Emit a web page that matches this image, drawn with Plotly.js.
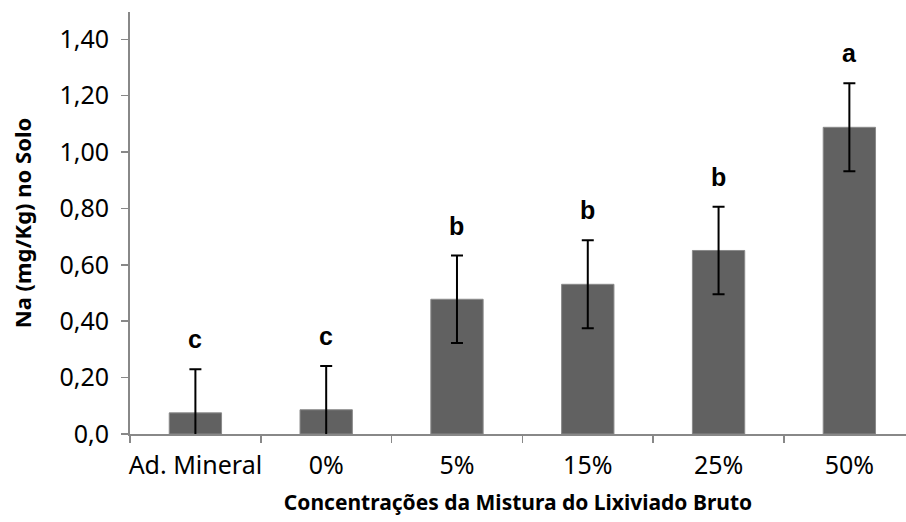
<!DOCTYPE html>
<html>
<head>
<meta charset="utf-8">
<script src="https://cdn.plot.ly/plotly-3.0.1.min.js"></script>
<style>html,body{margin:0;padding:0;background:#fff;}#chart{width:906px;height:522px;}</style>
</head>
<body>
<div id="chart"></div>
<script>
var categories = ["Ad. Mineral", "0%", "5%", "15%", "25%", "50%"];
var naValues = [0.075, 0.086, 0.478, 0.531, 0.651, 1.088];
var naErrors = [0.155, 0.155, 0.155, 0.156, 0.155, 0.156];
var groupLetters = ["c", "c", "b", "b", "b", "a"];
var yTickVals = [0, 0.2, 0.4, 0.6, 0.8, 1.0, 1.2, 1.4];
var yTickText = ["0,0", "0,20", "0,40", "0,60", "0,80", "1,00", "1,20", "1,40"];

var trace = {
  type: "bar",
  x: categories,
  y: naValues,
  width: 0.4,
  marker: {color: "#616161", line: {color: "#8a8a8a", width: 1}},
  error_y: {type: "data", array: naErrors, visible: true, color: "#000000", thickness: 2, width: 6},
  hoverinfo: "skip"
};

var annotations = categories.map(function (c, i) {
  return {
    x: c, y: naValues[i] + naErrors[i], xref: "x", yref: "y",
    text: groupLetters[i], showarrow: false, yanchor: "middle", yshift: 30,
    font: {family: "Liberation Sans, Arial, sans-serif", size: 25, color: "#000", weight: "bold"}
  };
});

var layout = {
  width: 906, height: 522,
  margin: {l: 130, r: 0, t: 12, b: 88},
  paper_bgcolor: "#ffffff", plot_bgcolor: "#ffffff",
  showlegend: false,
  font: {family: "Noto Sans, Open Sans, sans-serif", size: 22, color: "#000"},
  xaxis: {
    type: "category", range: [-0.5, 5.433],
    showline: true, linecolor: "#888888", linewidth: 2,
    ticks: "outside", tickson: "boundaries", ticklen: 7, tickcolor: "#888888", tickwidth: 1.5,
    showgrid: false, zeroline: false,
    tickangle: 0,
    ticklabelstandoff: 8,
    tickfont: {size: 25, color: "#000"},
    title: {text: "<b>Concentrações da Mistura do Lixiviado Bruto</b>", font: {size: 21, color: "#000"}, standoff: 15}
  },
  yaxis: {
    range: [0, 1.497],
    tickvals: yTickVals, ticktext: yTickText,
    showline: true, linecolor: "#888888", linewidth: 2,
    ticks: "outside", ticklen: 7, tickcolor: "#888888", tickwidth: 1.5,
    showgrid: false, zeroline: false,
    ticklabelstandoff: 7,
    tickfont: {size: 25, color: "#000"},
    title: {text: "<b>Na (mg/Kg) no Solo</b>", font: {size: 22, color: "#000"}, standoff: 22}
  },
  annotations: annotations
};

Plotly.newPlot("chart", [trace], layout, {displayModeBar: false, staticPlot: true});
</script>
</body>
</html>
